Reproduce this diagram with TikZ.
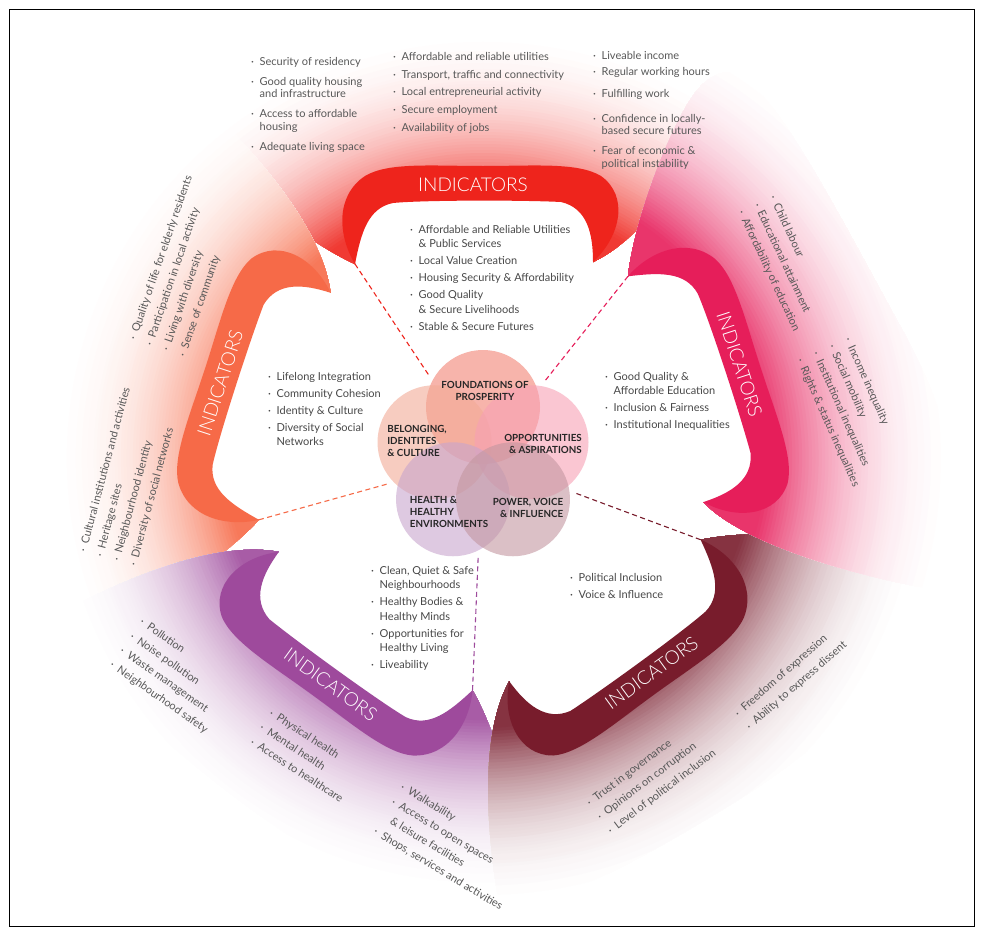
\documentclass[tikz,border=0pt]{standalone}
\usepackage{fontspec}
\setmainfont{Lato}
\newfontfamily\thinfont{Lato Light}
\usepackage{tikz}

\definecolor{indred}{RGB}{238,36,28}
\definecolor{indcrimson}{RGB}{230,30,90}
\definecolor{indmaroon}{RGB}{120,28,44}
\definecolor{indpurple}{RGB}{158,74,156}
\definecolor{indorange}{RGB}{246,106,72}
\definecolor{vfound}{RGB}{242,130,115}
\definecolor{vbelong}{RGB}{243,170,150}
\definecolor{vopp}{RGB}{247,160,180}
\definecolor{vhealth}{RGB}{200,165,205}
\definecolor{vpower}{RGB}{195,150,160}
\definecolor{listgray}{RGB}{72,72,72}
\definecolor{fangray}{RGB}{88,88,88}

\newcommand\itm{\makebox[8.5pt][l]{·}}
\newcommand\cont{\hspace*{8.5pt}}

% one petal, drawn pointing up, centre of the flower at the origin
\newcommand\bandpath{(-128,-194) .. controls (-145,-222) and (-148,-262) .. (-118,-282)
  .. controls (-95,-296) and (-50,-292) .. (0,-292)
  .. controls (50,-292) and (95,-296) .. (118,-282)
  .. controls (146,-262) and (138,-222) .. (110,-196)
  .. controls (110,-225) and (104,-250) .. (78,-256)
  .. controls (40,-258) and (-60,-258) .. (-90,-255)
  .. controls (-115,-250) and (-122,-225) .. (-128,-194) -- cycle}
% #1 stretches the clockwise corner, #2 the other one
\newcommand\fanpath[2]{(110,-196) .. controls (165,-222) and ({215*#1},{-300*#1}) .. ({250*#1},{-372*#1})
  .. controls ({200*#1},{-408*#1}) and ({100*#1},{-418*#1}) .. (0,{-416*(#1+#2)/2})
  .. controls ({-120*#2},{-414*#2}) and ({-230*#2},{-396*#2}) .. ({-275*#2},{-370*#2})
  .. controls ({-300*#2},{-356*#2}) and ({-298*#2},{-330*#2}) .. ({-270*#2},{-300*#2})
  .. controls (-235,-262) and (-172,-214) .. (-128,-194)
  .. controls (-145,-222) and (-148,-262) .. (-118,-282)
  .. controls (-95,-296) and (-50,-292) .. (0,-292)
  .. controls (50,-292) and (95,-296) .. (118,-282)
  .. controls (146,-262) and (138,-222) .. (110,-196) -- cycle}

\tikzset{
  lobelist/.style={align=left, anchor=north west, inner sep=0pt, text=listgray,
    font=\fontsize{11}{14.5}\selectfont},
  fanlist/.style={align=left, anchor=north west, inner sep=0pt, text=fangray,
    font=\fontsize{11}{17.4}\selectfont},
  toplist/.style={fanlist, font=\fontsize{11}{12.5}\selectfont},
  indlabel/.style={text=white, font=\thinfont\fontsize{19}{19}\selectfont, inner sep=0pt},
  venn/.style={circle, minimum size=114pt, inner sep=0pt, fill opacity=0.6},
  circlabel/.style={font=\bfseries\fontsize{9.8}{12.4}\selectfont, text=black!85, inner sep=0pt},
  dashline/.style={dash pattern=on 5pt off 3.5pt, line width=1.1pt},
}

\begin{document}
\begin{tikzpicture}[x=1pt, y=-1pt]
\useasboundingbox (0,0) rectangle (982,934);
\fill[white] (0,0) rectangle (982,934);

% fading fans behind the bands
\foreach \nm/\rot/\col/\sa/\sb in {top/0/indred/1/1, bel/72/indorange/1/1,
    hea/-216/indpurple/1/1.02, pow/-144/indmaroon/1/1.05, opp/-72/indcrimson/1.1/1}{
  \begin{scope}[shift={(483,458)}, rotate=\rot]
    \clip \fanpath{\sa}{\sb};
    \foreach \rl in {500,497,...,200}{
      \pgfmathsetmacro\tval{max(0.001,(440-\rl)/190)}
      \pgfmathtruncatemacro\pc{min(90,100*\tval^2.2)}
      \fill[\col!\pc!white] (0,0) circle ({\rl*max(\sa,\sb)});
    }
  \end{scope}
}

% indicator bands and dashed spokes
\foreach \nm/\rot/\col/\trot in {top/0/indred/0, opp/-72/indcrimson/-72,
    pow/-144/indmaroon/36, hea/-216/indpurple/-36, bel/72/indorange/72}{
  \begin{scope}[shift={(483,458)}, rotate=\rot]
    \fill[\col] \bandpath;
    \node[indlabel, rotate=\trot] (ind-\nm) at (-10,-273) {INDICATORS};
    \coordinate (\nm-tip) at (-128,-194);
    \coordinate (\nm-end) at (-53,-81);
    \draw[dashline, \col] (\nm-tip) -- (\nm-end);
  \end{scope}
}

% the five domains
\begin{scope}[shift={(483,458)}]
  \foreach \nm/\ang/\col in {found/-90/vfound, bel/-162/vbelong, opp/-18/vopp,
      hea/126/vhealth, pow/54/vpower}
    \node[venn, fill=\col] (c-\nm) at (\ang:51) {};
\end{scope}
\node[circlabel, align=center] (lbl-found) at (485,391) {FOUNDATIONS OF\\PROSPERITY};
\node[circlabel, align=left] (lbl-bel) at (417,441) {BELONGING,\\IDENTITES\\\& CULTURE};
\node[circlabel, align=right] (lbl-opp) at (543,444) {OPPORTUNITIES\\\& ASPIRATIONS};
\node[circlabel, align=left] (lbl-hea) at (449,512) {HEALTH \&\\HEALTHY\\ENVIRONMENTS};
\node[circlabel, align=right] (lbl-pow) at (528,508) {POWER, VOICE\\\& INFLUENCE};

% themes inside each petal
\node[lobelist] (lobe-top) at (410,225) {\itm Affordable and Reliable Utilities\\\cont\& Public Services\\[2.5pt]
  \itm Local Value Creation\\[2.5pt]\itm Housing Security \& Affordability\\[2.5pt]
  \itm Good Quality\\\cont\& Secure Livelihoods\\[2.5pt]\itm Stable \& Secure Futures};
\node[lobelist] (lobe-bel) at (268,372) {\itm Lifelong Integration\\[2.5pt]\itm Community Cohesion\\[2.5pt]
  \itm Identity \& Culture\\[2.5pt]\itm Diversity of Social\\\cont Networks};
\node[lobelist] (lobe-opp) at (605,372) {\itm Good Quality \&\\\cont Affordable Education\\[2.5pt]
  \itm Inclusion \& Fairness\\[2.5pt]\itm Institutional Inequalities};
\node[lobelist] (lobe-hea) at (371,566) {\itm Clean, Quiet \& Safe\\\cont Neighbourhoods\\[2.5pt]
  \itm Healthy Bodies \&\\\cont Healthy Minds\\[2.5pt]\itm Opportunities for\\\cont Healthy Living\\[2.5pt]
  \itm Liveability};
\node[lobelist] (lobe-pow) at (570,573) {\itm Political Inclusion\\[2.5pt]\itm Voice \& Influence};

% indicator lists in the fans
\node[toplist] (fan-top-a) at (251,57) {\itm Security of residency\\[7.5pt]\itm Good quality housing\\\cont and infrastructure\\[7.5pt]
  \itm Access to affordable\\\cont housing\\[7.5pt]\itm Adequate living space};
\node[toplist] (fan-top-b) at (393,52) {\itm Affordable and reliable utilities\\[5.2pt]\itm Transport, traffic and connectivity\\[5.2pt]
  \itm Local entrepreneurial activity\\[5.2pt]\itm Secure employment\\[5.2pt]\itm Availability of jobs};
\node[toplist] (fan-top-c) at (593,51) {\itm Liveable income\\[3.5pt]\itm Regular working hours\\[9.5pt]\itm Fulfilling work\\[12.5pt]
  \itm Confidence in locally-\\\cont based secure futures\\[7.5pt]\itm Fear of economic \&\\\cont political instability};

\node[fanlist, rotate=71] (fan-bel-a) at (128,338) {\itm Quality of life for elderly residents\\\itm Participation in local activity\\
  \itm Living with diversity\\\itm Sense of community};
\node[fanlist, rotate=75] (fan-bel-b) at (78,551) {\itm Cultural institutions and activities\\\itm Heritage sites\\
  \itm Neighbourhood identity\\\itm Diversity of social networks};

\node[fanlist, rotate=-65] (fan-opp-a) at (777,194) {\itm Child labour\\\itm Educational attainment\\\itm Affordability of education};
\node[fanlist, rotate=-66] (fan-opp-b) at (852,336) {\itm Income inequality\\\itm Social mobility\\
  \itm Institutional inequalities\\\itm Rights \& status inequalities};

\node[fanlist, rotate=37] (fan-pow-a) at (585,800) {\itm Trust in governance\\\itm Opinions on corruption\\\itm Level of political inclusion};
\node[fanlist, rotate=41] (fan-pow-b) at (733,711) {\itm Freedom of expression\\\itm Ability to express dissent};

\node[fanlist, rotate=-35] (fan-hea-a) at (144,617) {\itm Pollution\\\itm Noise pollution\\\itm Waste management\\\itm Neighbourhood safety};
\node[fanlist, rotate=-33] (fan-hea-b) at (273,708) {\itm Physical health\\\itm Mental health\\\itm Access to healthcare};
\node[fanlist, rotate=-31] (fan-hea-c) at (404,782) {\itm Walkability\\\itm Access to open spaces\\\cont\& leisure facilities\\
  \itm Shops, services and activities};

% frame
\draw[black, line width=0.7pt] (9.5,9.5) rectangle (974.5,926.5);
\end{tikzpicture}
\end{document}
